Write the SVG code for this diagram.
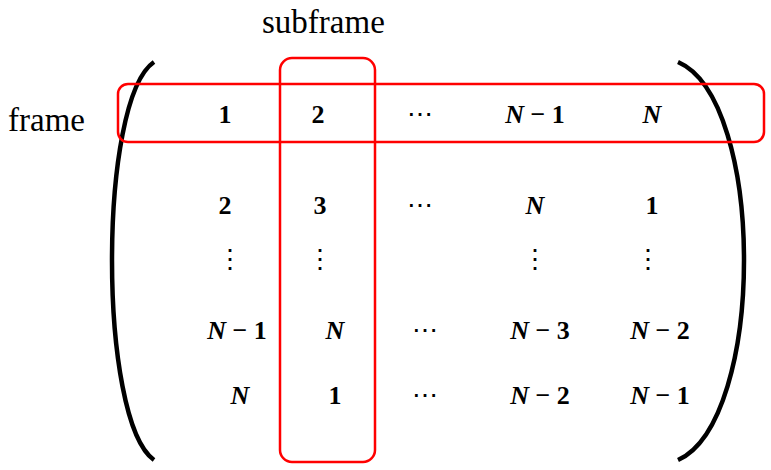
<svg xmlns="http://www.w3.org/2000/svg" width="771" height="470" viewBox="0 0 771 470">
<style>
.m{font-family:"Liberation Serif",serif;font-weight:bold;font-size:26px;text-anchor:middle}
.n{font-style:italic}
.d{font-weight:normal}
.lb{font-family:"Liberation Serif",serif;font-size:33px}
.p{fill:none;stroke:#000;stroke-width:4.5}
.r{fill:none;stroke:#f00;stroke-width:2.5}
</style>
<rect width="771" height="470" fill="#fff"/>
<path class="p" d="M154,62 C98,100 98,420 154,460"/>
<path class="p" d="M678,62 C766,100 766,420 678,460"/>
<rect class="r" x="118" y="84" width="646" height="58" rx="10"/>
<rect class="r" x="280" y="58" width="95" height="404" rx="12"/>
<text class="lb" x="262" y="33">subframe</text>
<text class="lb" x="8" y="131">frame</text>
<g class="m">
<text x="225" y="123">1</text><text x="318" y="123">2</text><text x="420" y="123" class="d">⋯</text><text x="535" y="123"><tspan class="n">N</tspan> − 1</text><text x="652" y="123" class="n">N</text>
<text x="225" y="214">2</text><text x="320" y="214">3</text><text x="420" y="214" class="d">⋯</text><text x="535" y="214" class="n">N</text><text x="652" y="214">1</text>
<text x="230" y="268" class="d">⋮</text><text x="320" y="268" class="d">⋮</text><text x="535" y="268" class="d">⋮</text><text x="648" y="268" class="d">⋮</text>
<text x="237" y="339"><tspan class="n">N</tspan> − 1</text><text x="335" y="339" class="n">N</text><text x="425" y="339" class="d">⋯</text><text x="540" y="339"><tspan class="n">N</tspan> − 3</text><text x="660" y="339"><tspan class="n">N</tspan> − 2</text>
<text x="240" y="404" class="n">N</text><text x="335" y="404">1</text><text x="425" y="404" class="d">⋯</text><text x="540" y="404"><tspan class="n">N</tspan> − 2</text><text x="660" y="404"><tspan class="n">N</tspan> − 1</text>
</g>
</svg>
